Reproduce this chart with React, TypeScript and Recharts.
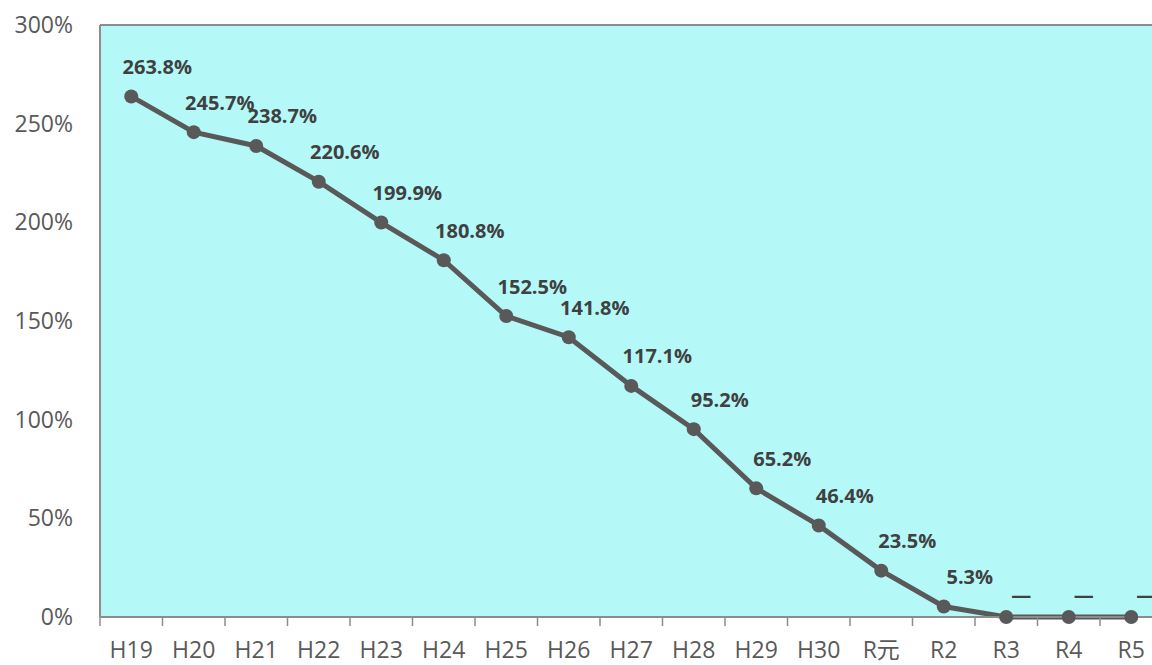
import {
  LineChart, Line, XAxis, YAxis, CartesianGrid,
  ReferenceLine, LabelList
} from 'recharts'

const years = ['H19', 'H20', 'H21', 'H22', 'H23', 'H24', 'H25', 'H26', 'H27', 'H28', 'H29', 'H30', 'R元', 'R2', 'R3', 'R4', 'R5']
const rates = [263.8, 245.7, 238.7, 220.6, 199.9, 180.8, 152.5, 141.8, 117.1, 95.2, 65.2, 46.4, 23.5, 5.3, 0, 0, 0]
const rateLabels = ['263.8%', '245.7%', '238.7%', '220.6%', '199.9%', '180.8%', '152.5%', '141.8%', '117.1%', '95.2%', '65.2%', '46.4%', '23.5%', '5.3%', '—', '—', '—']
const yTicks = [0, 50, 100, 150, 200, 250, 300]

const data = years.map((year, i) => ({ year, rate: rates[i], label: rateLabels[i] }))

const PLOT_LEFT = 100
const BAND = 62.5
const CHART_W = PLOT_LEFT + BAND * years.length
const AXIS_GRAY = '#8c8c8c'
const TEXT_GRAY = '#595959'

function YearTick(props: any) {
  const { x, y, payload } = props
  return (
    <g>
      <line x1={x - BAND / 2} y1={y} x2={x - BAND / 2} y2={y + 9} stroke={AXIS_GRAY} strokeWidth={1.5} />
      <text x={x} y={y + 32} textAnchor="middle" dominantBaseline="central" fill={TEXT_GRAY} fontSize={23}>
        {payload.value}
      </text>
    </g>
  )
}

function RateLabel(props: any) {
  const { x, y, value } = props
  const dash = value === '—'
  return (
    <text
      x={x + (dash ? 15 : 26)}
      y={y - (dash ? 23 : 30)}
      textAnchor="middle"
      dominantBaseline="central"
      fill="#404040"
      fontSize={20}
      fontWeight={700}
    >
      {value}
    </text>
  )
}

export default function App() {
  return (
    <div style={{ position: 'absolute', left: 0, top: 0, width: 1152, height: 665, overflow: 'hidden', background: '#fff', fontFamily: '"Open Sans", "Noto Sans CJK JP", sans-serif' }}>
      <LineChart width={CHART_W} height={665} data={data} margin={{ top: 25, right: 0, bottom: 0, left: 0 }}>
        <CartesianGrid fill="#b4f9f8" horizontal={false} vertical={false} />
        <XAxis
          dataKey="year"
          scale="band"
          height={48}
          axisLine={{ stroke: AXIS_GRAY, strokeWidth: 2 }}
          tickLine={false}
          tickSize={0}
          tickMargin={0}
          interval={0}
          tick={<YearTick />}
        />
        <YAxis
          width={PLOT_LEFT}
          domain={[0, 300]}
          ticks={yTicks}
          tickFormatter={(v: number) => `${v}%`}
          axisLine={{ stroke: AXIS_GRAY, strokeWidth: 2 }}
          tickLine={false}
          tickSize={0}
          tickMargin={27}
          tick={{ fill: TEXT_GRAY, fontSize: 23 }}
        />
        <ReferenceLine y={300} stroke={AXIS_GRAY} strokeWidth={2} />
        <Line
          dataKey="rate"
          stroke="#595959"
          strokeWidth={5}
          dot={{ r: 7, fill: '#595959', stroke: 'none' }}
          activeDot={false}
          isAnimationActive={false}
        >
          <LabelList dataKey="label" content={<RateLabel />} />
        </Line>
      </LineChart>
    </div>
  )
}
